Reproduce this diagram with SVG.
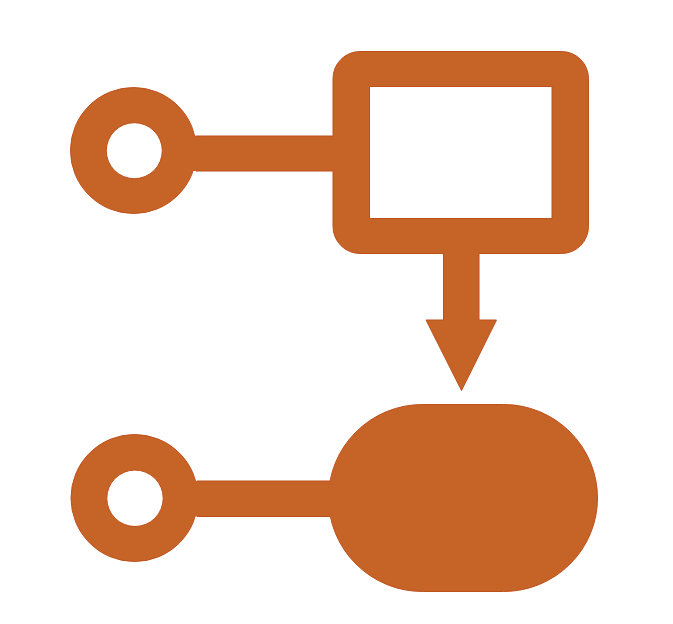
<svg xmlns="http://www.w3.org/2000/svg" width="673" height="624" viewBox="0 0 673 624">
  <style>
    .s { fill: #C66327; stroke: #C0511C; stroke-width: 1; fill-rule: evenodd; }
    .c { fill: #C66327; }
    .e { stroke: #C0511C; stroke-width: 1; fill: none; }
  </style>
  <rect width="673" height="624" fill="#FFFFFF"/>
  <g id="start-top">
    <path class="s" d="M70.5 150.5 A63 63 0 1 0 196.5 150.5 A63 63 0 1 0 70.5 150.5 Z M106.3 150.7 A28 28 0 1 1 162.3 150.7 A28 28 0 1 1 106.3 150.7 Z"/>
  </g>
  <g id="process">
    <path class="s" d="M360 51.5 H561.5 A27 27 0 0 1 588.5 78.5 V226.5 A27 27 0 0 1 561.5 253.5 H360 A27 27 0 0 1 333 226.5 V78.5 A27 27 0 0 1 360 51.5 Z M369.5 86.5 V218.5 H552 V86.5 Z"/>
  </g>
  <g id="start-bottom">
    <path class="s" d="M71 498 A63.5 63.5 0 1 0 198 498 A63.5 63.5 0 1 0 71 498 Z M106.8 498.3 A28.2 28.2 0 1 1 163.2 498.3 A28.2 28.2 0 1 1 106.8 498.3 Z"/>
  </g>
  <g id="terminal">
    <rect class="s" x="328.5" y="404.5" width="269" height="187" rx="94" ry="93.5"/>
  </g>
  <g id="connectors">
    <rect class="c" x="185" y="136" width="155" height="35"/>
    <path class="e" d="M195.5 136 H333.5 M195.5 171 H333.5"/>
    <rect class="c" x="185" y="481" width="150" height="35.5"/>
    <path class="e" d="M197 481 H330 M197 516.5 H330"/>
    <path class="c" d="M443.5 248 L479 248 L479 320 L496.5 320 L461.5 390.5 L426 320 L443.5 320 Z"/>
    <path class="e" d="M443.5 253.5 L443.5 320 L426 320 L461.5 390.5 L496.5 320 L479 320 L479 253.5"/>
  </g>
</svg>
